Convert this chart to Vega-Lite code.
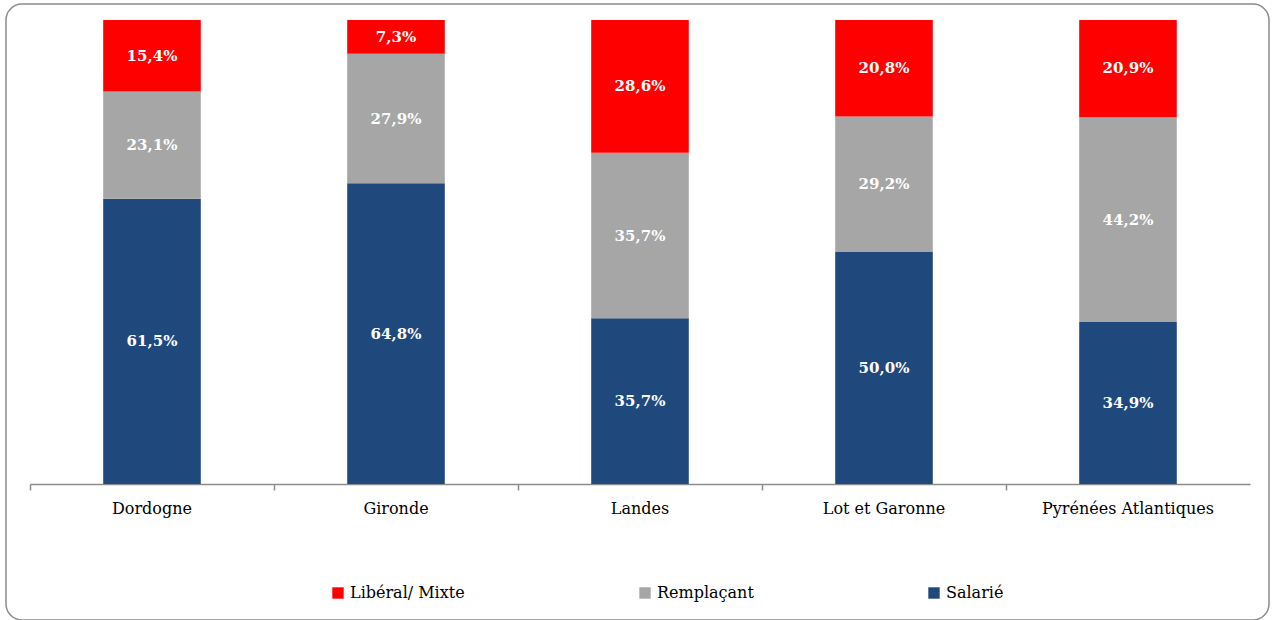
{
  "$schema": "https://vega.github.io/schema/vega-lite/v6.json",
  "autosize": "none",
  "width": 1263,
  "height": 616,
  "padding": {"left": 6, "top": 4, "right": 3, "bottom": 0},
  "background": "white",
  "config": {
    "view": {"stroke": "#8c8c8c", "strokeWidth": 1.5, "cornerRadius": 16},
    "font": "DejaVu Serif",
    "locale": {"number": {"decimal": ",", "thousands": " ", "grouping": [3], "currency": ["", " €"]}}
  },
  "data": {
    "values": [
      {"dep": "Dordogne", "cat": "Salarié", "p": 0.615},
      {"dep": "Dordogne", "cat": "Remplaçant", "p": 0.231},
      {"dep": "Dordogne", "cat": "Libéral/ Mixte", "p": 0.154},
      {"dep": "Gironde", "cat": "Salarié", "p": 0.648},
      {"dep": "Gironde", "cat": "Remplaçant", "p": 0.279},
      {"dep": "Gironde", "cat": "Libéral/ Mixte", "p": 0.073},
      {"dep": "Landes", "cat": "Salarié", "p": 0.357},
      {"dep": "Landes", "cat": "Remplaçant", "p": 0.357},
      {"dep": "Landes", "cat": "Libéral/ Mixte", "p": 0.286},
      {"dep": "Lot et Garonne", "cat": "Salarié", "p": 0.500},
      {"dep": "Lot et Garonne", "cat": "Remplaçant", "p": 0.292},
      {"dep": "Lot et Garonne", "cat": "Libéral/ Mixte", "p": 0.208},
      {"dep": "Pyrénées Atlantiques", "cat": "Salarié", "p": 0.349},
      {"dep": "Pyrénées Atlantiques", "cat": "Remplaçant", "p": 0.442},
      {"dep": "Pyrénées Atlantiques", "cat": "Libéral/ Mixte", "p": 0.209}
    ]
  },
  "encoding": {
    "x": {
      "field": "dep",
      "type": "nominal",
      "sort": null,
      "title": null,
      "scale": {"range": [24, 1244], "paddingInner": 0, "paddingOuter": 0},
      "axis": {
        "offset": -136,
        "labelAngle": 0,
        "labelFontSize": 16,
        "labelColor": "#000000",
        "labelPadding": 10,
        "domainColor": "#8c8c8c",
        "domainWidth": 1.5,
        "tickColor": "#8c8c8c",
        "tickWidth": 1.5,
        "tickSize": 6,
        "bandPosition": 0,
        "grid": false
      }
    },
    "y": {
      "field": "p",
      "type": "quantitative",
      "stack": "zero",
      "scale": {"domain": [0, 1], "range": [480, 16], "nice": false},
      "axis": null
    },
    "order": {"field": "cat", "sort": "descending"}
  },
  "layer": [
    {
      "mark": {"type": "bar", "width": {"band": 0.4}},
      "encoding": {
        "color": {
          "field": "cat",
          "type": "nominal",
          "title": null,
          "scale": {
            "domain": ["Libéral/ Mixte", "Remplaçant", "Salarié"],
            "range": ["#FF0000", "#A6A6A6", "#1F497D"]
          },
          "legend": {
            "orient": "none",
            "legendX": 324,
            "legendY": 581,
            "direction": "horizontal",
            "columns": 3,
            "columnPadding": 172,
            "symbolType": "square",
            "symbolSize": 130,
            "symbolStrokeWidth": 0,
            "labelFontSize": 16,
            "labelColor": "#000000",
            "labelOffset": 4,
            "labelLimit": 300
          }
        }
      }
    },
    {
      "mark": {"type": "text", "color": "white", "fontWeight": "bold", "fontSize": 15, "baseline": "middle"},
      "encoding": {
        "y": {"field": "p", "type": "quantitative", "stack": "zero", "bandPosition": 0.5},
        "text": {"field": "p", "type": "quantitative", "format": ".1%"}
      }
    }
  ]
}
